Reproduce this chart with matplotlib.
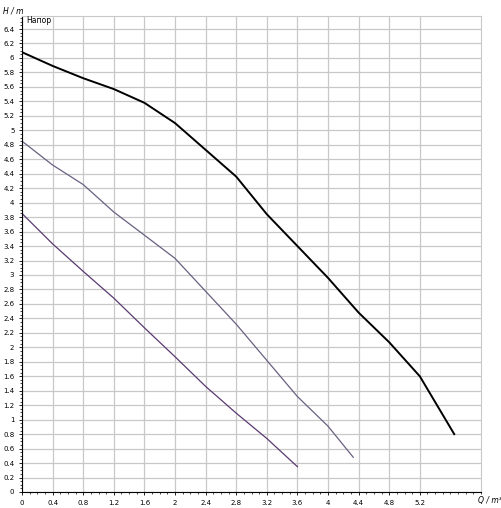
import matplotlib
matplotlib.use("Agg")
import matplotlib.pyplot as plt
from matplotlib.ticker import MultipleLocator

q_top = [0, 0.4, 0.8, 1.2, 1.6, 2.0, 2.4, 2.8, 3.2, 3.6, 4.0, 4.4, 4.8, 5.2, 5.65]
h_top = [6.08, 5.89, 5.72, 5.57, 5.38, 5.1, 4.73, 4.36, 3.84, 3.4, 2.96, 2.48, 2.07, 1.6, 0.8]
q_mid = [0, 0.4, 0.8, 1.2, 2.0, 2.8, 3.6, 4.0, 4.33]
h_mid = [4.85, 4.52, 4.25, 3.87, 3.23, 2.32, 1.32, 0.91, 0.48]
q_low = [0, 0.4, 0.8, 1.2, 1.6, 2.0, 2.4, 2.8, 3.2, 3.6]
h_low = [3.85, 3.43, 3.05, 2.68, 2.27, 1.87, 1.46, 1.09, 0.74, 0.35]

fig = plt.figure(figsize=(5.01, 5.08), dpi=100)
ax = fig.add_axes([22/501, 16/508, 459/501, 476/508])
ax.plot(q_top, h_top, color="black", lw=1.4)
ax.plot(q_mid, h_mid, color="#6a6080", lw=0.9)
ax.plot(q_low, h_low, color="#5a3a70", lw=0.9)
ax.set_xlim(0, 6.0)
ax.set_ylim(0, 6.58)
ax.xaxis.set_major_locator(MultipleLocator(0.4))
ax.xaxis.set_minor_locator(MultipleLocator(0.1))
ax.yaxis.set_major_locator(MultipleLocator(0.2))
ax.yaxis.set_minor_locator(MultipleLocator(0.05))
ax.grid(True, which="major", color="#c8c8c8", lw=0.9)
ax.set_axisbelow(True)
ax.tick_params(labelsize=5, length=2.5, width=0.6, pad=3)
ax.tick_params(which="minor", length=1.5, width=0.5)
for s in ["top", "right"]:
    ax.spines[s].set_color("#c8c8c8")
xt = [round(0.4*i, 1) for i in range(15)]
ax.set_xticks(xt)
ax.set_xticklabels([("%g" % v) for v in xt])
yt = [round(0.2*i, 1) for i in range(33)]
ax.set_yticks(yt)
ax.set_yticklabels([("%g" % v) for v in yt])
fig.text(3/501, 1-11/508, "H / m", fontsize=5.5, style="italic", va="center")
ax.text(0.05, 6.52, "Напор", fontsize=5.5, va="center")
fig.text(478/501, 1-500/508, "Q / m³/h", fontsize=5.5, style="italic", va="center")
ax.set_xticks(xt[:-1])
ax.set_xticklabels([("%g" % v) for v in xt[:-1]])
fig.savefig("out.png", dpi=100)
